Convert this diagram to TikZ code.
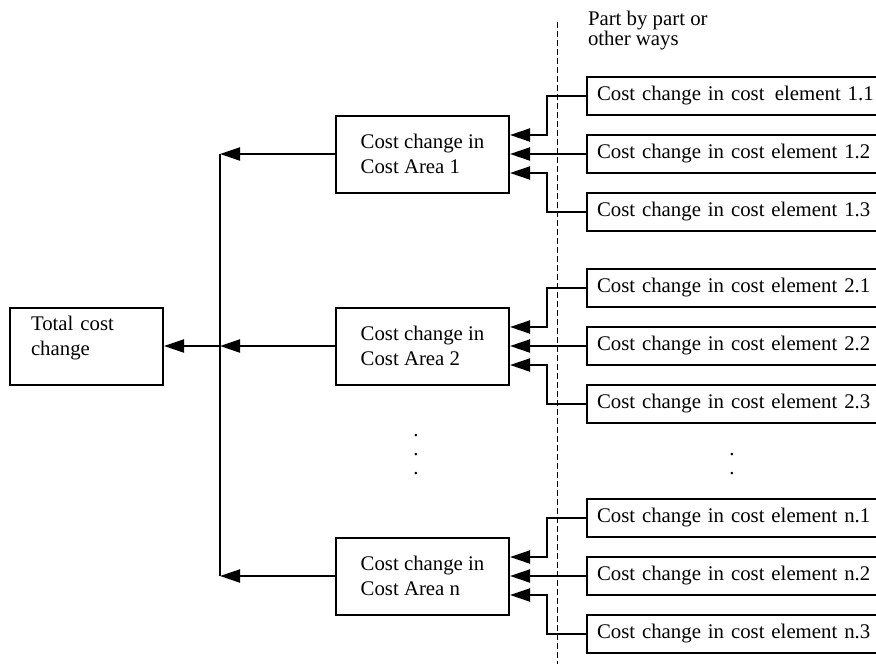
\documentclass[tikz,border=0pt]{standalone}
\usepackage{fontspec}
\setmainfont{Liberation Serif}
\usetikzlibrary{arrows.meta,positioning}

\begin{document}
\begin{tikzpicture}[
  x=0.5pt,y=-0.5pt,
  font=\fontsize{10.4}{12.5}\selectfont,
  line width=1pt,
  area/.style={draw,align=left,minimum width=86.5pt,minimum height=38.5pt,inner sep=0pt},
  elem/.style={draw,align=left,text width=160pt,inner xsep=5pt,inner ysep=0pt,
               minimum height=19pt},
  arr/.style={-{Triangle[length=10pt,width=6.5pt]}},
  sep/.style={line width=.5pt,dash pattern=on 3pt off 1.5pt}
]
\useasboundingbox (0,0) rectangle (876,664);
\clip (0,0) rectangle (876,664);

% cost areas
\node[area] (a1) at (422.5,154) {Cost change in\\Cost Area 1};
\node[area,below=56.5pt of a1] (a2) {Cost change in\\Cost Area 2};
\node[area,below=75.5pt of a2] (an) {Cost change in\\Cost Area n};
\node[draw,align=left,text width=55.5pt,inner xsep=10.5pt,minimum height=38.5pt,
      left=85.5pt of a2] (total) {Total cost\\change\\[-2pt]\mbox{}};

% cost elements
\node[elem,right=38pt of a1] (e12) {Cost change in cost element 1.2};
\node[elem,above=9pt of e12] (e11) {Cost change in cost~\,element 1.1};
\node[elem,below=9pt of e12] (e13) {Cost change in cost element 1.3};
\node[elem,right=38pt of a2] (e22) {Cost change in cost element 2.2};
\node[elem,above=9pt of e22] (e21) {Cost change in cost element 2.1};
\node[elem,below=9pt of e22] (e23) {Cost change in cost element 2.3};
\node[elem,right=38pt of an] (en2) {Cost change in cost element n.2};
\node[elem,above=9pt of en2] (en1) {Cost change in cost element n.1};
\node[elem,below=9pt of en2] (en3) {Cost change in cost element n.3};

% dots and note
\node[align=center,inner sep=0pt,font=\fontsize{10.4}{9.5}\selectfont] (dotsl) at (416,455) {.\\.\\.};
\node[align=center,inner sep=0pt,font=\fontsize{10.4}{9.5}\selectfont] (dotsr) at (732,464) {.\\.};
\node[anchor=north west,align=left,inner sep=0pt,font=\fontsize{10.4}{10}\selectfont]
      (note) at (587,10) {Part by part or\\other ways};

% divider
\coordinate (dtop) at (557,22);
\coordinate (dbot) at (557,664);
\draw[sep] (dtop) -- (dbot);

% bus
\coordinate (b1) at ([xshift=-57.5pt]a1.west);
\coordinate (b2) at ([xshift=-57.5pt]a2.west);
\coordinate (bn) at ([xshift=-57.5pt]an.west);
\draw (b1) -- (bn);
\draw[arr] (a1) -- (b1);
\draw[arr] (a2) -- (b2);
\draw[arr] (an) -- (bn);
\draw[arr] (b2) -- (total);

% elements to areas
\draw[arr] (e11.west) -- ++(-19.5pt,0) |- ([yshift=9.5pt]a1.east);
\draw[arr] (e12) -- (a1);
\draw[arr] (e13.west) -- ++(-19.5pt,0) |- ([yshift=-9.5pt]a1.east);
\draw[arr] (e21.west) -- ++(-19.5pt,0) |- ([yshift=9.5pt]a2.east);
\draw[arr] (e22) -- (a2);
\draw[arr] (e23.west) -- ++(-19.5pt,0) |- ([yshift=-9.5pt]a2.east);
\draw[arr] (en1.west) -- ++(-19.5pt,0) |- ([yshift=9.5pt]an.east);
\draw[arr] (en2) -- (an);
\draw[arr] (en3.west) -- ++(-19.5pt,0) |- ([yshift=-9.5pt]an.east);
\end{tikzpicture}
\end{document}
